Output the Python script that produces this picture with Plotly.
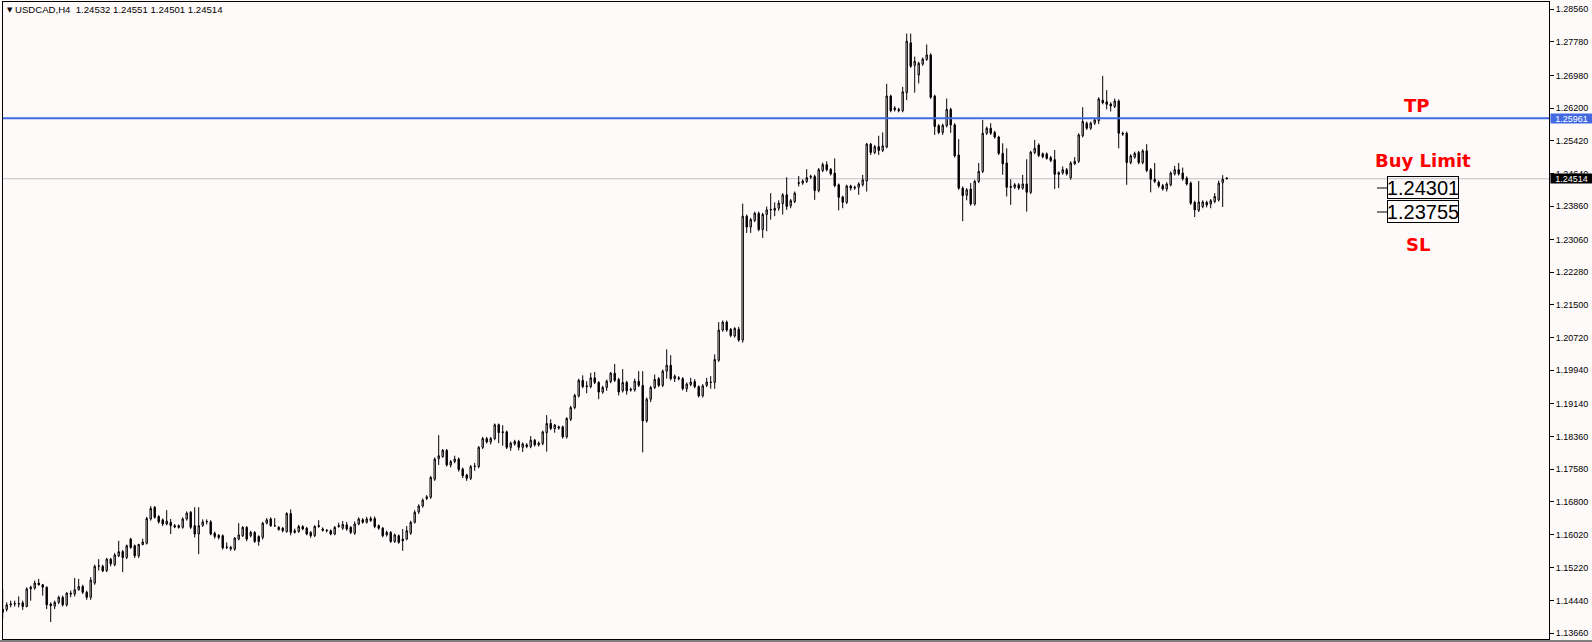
import plotly.graph_objects as go

# ---- data (USDCAD H4) ----
opens = [
1.1416,1.1423,1.1434,1.1436,1.1437,1.1439,1.1430,1.1472,1.1474,1.1486,
1.1482,1.1476,1.1436,1.1431,1.1440,1.1452,1.1434,1.1462,1.1460,1.1470,
1.1478,1.1464,1.1452,1.1486,1.1526,1.1526,1.1516,1.1543,1.1530,1.1551,
1.1561,1.1547,1.1591,1.1575,1.1551,1.1578,1.1581,1.1639,1.1667,1.1645,
1.1637,1.1627,1.1631,1.1623,1.1623,1.1619,1.1639,1.1655,1.1623,1.1603,
1.1624,1.1632,1.1632,1.1605,1.1600,1.1599,1.1571,1.1571,1.1567,1.1591,
1.1599,1.1619,1.1599,1.1607,1.1597,1.1595,1.1629,1.1639,1.1623,1.1619,
1.1617,1.1609,1.1652,1.1607,1.1609,1.1621,1.1617,1.1607,1.1599,1.1621,
1.1615,1.1612,1.1611,1.1603,1.1621,1.1617,1.1625,1.1619,1.1605,1.1627,
1.1637,1.1631,1.1635,1.1640,1.1623,1.1617,1.1601,1.1607,1.1585,1.1599,
1.1591,1.1591,1.1605,1.1631,1.1656,1.1670,1.1688,1.1691,1.1734,1.1783,
1.1788,1.1803,1.1768,1.1776,1.1782,1.1758,1.1744,1.1736,1.1764,1.1764,
1.1810,1.1831,1.1823,1.1831,1.1864,1.1845,1.1847,1.1810,1.1818,1.1824,
1.1810,1.1816,1.1812,1.1827,1.1816,1.1819,1.1845,1.1867,1.1855,1.1859,
1.1859,1.1835,1.1877,1.1905,1.1933,1.1970,1.1957,1.1955,1.1976,1.1965,
1.1942,1.1953,1.1967,1.1987,1.1972,1.1945,1.1965,1.1949,1.1947,1.1968,
1.1958,1.1873,1.1925,1.1953,1.1974,1.1958,1.1992,1.2006,1.1974,1.1976,
1.1974,1.1950,1.1960,1.1967,1.1955,1.1933,1.1958,1.1966,1.1965,1.2018,
1.2090,1.2109,1.2092,1.2076,1.2092,1.2066,1.2362,1.2336,1.2352,1.2369,
1.2330,1.2366,1.2377,1.2376,1.2381,1.2392,1.2413,1.2387,1.2397,1.2440,
1.2441,1.2445,1.2455,1.2457,1.2423,1.2471,1.2485,1.2474,1.2465,1.2437,
1.2408,1.2395,1.2434,1.2429,1.2431,1.2437,1.2446,1.2534,1.2514,1.2528,
1.2519,1.2527,1.2649,1.2616,1.2617,1.2614,1.2657,1.2776,1.2722,1.2699,
1.2725,1.2736,1.2747,1.2649,1.2578,1.2562,1.2578,1.2617,1.2580,1.2508,
1.2429,1.2412,1.2427,1.2391,1.2445,1.2469,1.2560,1.2572,1.2562,1.2551,
1.2512,1.2489,1.2433,1.2431,1.2437,1.2429,1.2439,1.2419,1.2514,1.2532,
1.2511,1.2511,1.2502,1.2497,1.2466,1.2465,1.2473,1.2454,1.2487,1.2493,
1.2554,1.2584,1.2572,1.2584,1.2590,1.2639,1.2635,1.2630,1.2624,1.2637,
1.2560,1.2560,1.2490,1.2503,1.2514,1.2490,1.2518,1.2473,1.2450,1.2443,
1.2435,1.2427,1.2437,1.2463,1.2473,1.2465,1.2453,1.2441,1.2395,1.2376,
1.2385,1.2395,1.2391,1.2397,1.2401,1.2442,1.24532]
highs = [
1.1472,1.1440,1.1444,1.1444,1.1454,1.1444,1.1476,1.1480,1.1492,1.1496,
1.1484,1.1478,1.1440,1.1444,1.1456,1.1456,1.1464,1.1468,1.1498,1.1496,
1.1482,1.1468,1.1500,1.1530,1.1543,1.1530,1.1546,1.1546,1.1558,1.1587,
1.1565,1.1578,1.1594,1.1578,1.1580,1.1592,1.1644,1.1670,1.1670,1.1648,
1.1640,1.1660,1.1639,1.1627,1.1626,1.1643,1.1657,1.1658,1.1667,1.1667,
1.1638,1.1638,1.1636,1.1609,1.1603,1.1602,1.1583,1.1575,1.1596,1.1629,
1.1622,1.1622,1.1611,1.1610,1.1600,1.1632,1.1641,1.1643,1.1641,1.1622,
1.1620,1.1655,1.1662,1.1616,1.1625,1.1624,1.1620,1.1610,1.1624,1.1636,
1.1619,1.1615,1.1614,1.1622,1.1630,1.1634,1.1632,1.1622,1.1633,1.1643,
1.1641,1.1644,1.1645,1.1645,1.1626,1.1620,1.1611,1.1610,1.1604,1.1602,
1.1615,1.1622,1.1635,1.1660,1.1674,1.1688,1.1696,1.1742,1.1786,1.1839,
1.1806,1.1806,1.1780,1.1790,1.1786,1.1762,1.1747,1.1768,1.1773,1.1813,
1.1835,1.1835,1.1835,1.1867,1.1867,1.1863,1.1850,1.1824,1.1828,1.1828,
1.1822,1.1820,1.1837,1.1830,1.1824,1.1850,1.1887,1.1877,1.1866,1.1862,
1.1862,1.1882,1.1909,1.1938,1.1974,1.1982,1.1968,1.1988,1.1990,1.1968,
1.1957,1.1972,1.1990,1.2009,1.1976,1.1997,1.1969,1.1953,1.1974,1.1992,
1.1992,1.1929,1.1957,1.1984,1.1978,1.1996,1.2044,1.2030,1.1984,1.1980,
1.1978,1.1965,1.1976,1.1973,1.1958,1.1961,1.1976,1.1980,1.2032,1.2109,
1.2113,1.2113,1.2095,1.2097,1.2098,1.2392,1.2366,1.2358,1.2373,1.2373,
1.2370,1.2385,1.2417,1.2395,1.2400,1.2417,1.2455,1.2403,1.2421,1.2458,
1.2450,1.2474,1.2461,1.2461,1.2477,1.2490,1.2493,1.2477,1.2500,1.2440,
1.2411,1.2437,1.2437,1.2435,1.2443,1.2461,1.2537,1.2537,1.2532,1.2554,
1.2562,1.2678,1.2652,1.2625,1.2621,1.2671,1.2798,1.2798,1.2743,1.2731,
1.2741,1.2772,1.2751,1.2652,1.2582,1.2583,1.2643,1.2621,1.2584,1.2546,
1.2433,1.2429,1.2441,1.2449,1.2489,1.2592,1.2576,1.2584,1.2566,1.2554,
1.2536,1.2524,1.2450,1.2441,1.2441,1.2461,1.2498,1.2518,1.2544,1.2536,
1.2514,1.2514,1.2506,1.2520,1.2469,1.2481,1.2477,1.2493,1.2503,1.2560,
1.2622,1.2588,1.2588,1.2596,1.2646,1.2697,1.2663,1.2634,1.2643,1.2641,
1.2564,1.2564,1.2510,1.2516,1.2518,1.2522,1.2534,1.2477,1.2489,1.2447,
1.2439,1.2443,1.2469,1.2482,1.2489,1.2478,1.2457,1.2445,1.2399,1.2446,
1.2400,1.2399,1.2403,1.2417,1.2447,1.2460,1.24551]
lows = [
1.1401,1.1418,1.1428,1.1430,1.1428,1.1422,1.1428,1.1444,1.1470,1.1480,
1.1456,1.1424,1.1393,1.1424,1.1436,1.1430,1.1430,1.1452,1.1454,1.1468,
1.1460,1.1446,1.1446,1.1482,1.1516,1.1512,1.1512,1.1526,1.1526,1.1548,
1.1512,1.1543,1.1568,1.1546,1.1546,1.1576,1.1578,1.1635,1.1640,1.1628,
1.1622,1.1624,1.1603,1.1617,1.1616,1.1616,1.1635,1.1615,1.1595,1.1555,
1.1620,1.1626,1.1600,1.1592,1.1590,1.1566,1.1567,1.1563,1.1563,1.1588,
1.1596,1.1586,1.1595,1.1582,1.1575,1.1590,1.1626,1.1620,1.1620,1.1611,
1.1607,1.1606,1.1600,1.1604,1.1606,1.1612,1.1600,1.1594,1.1596,1.1618,
1.1609,1.1607,1.1600,1.1600,1.1618,1.1613,1.1611,1.1603,1.1601,1.1624,
1.1628,1.1628,1.1632,1.1617,1.1613,1.1595,1.1597,1.1582,1.1582,1.1580,
1.1563,1.1588,1.1601,1.1628,1.1651,1.1666,1.1684,1.1687,1.1730,1.1768,
1.1785,1.1764,1.1762,1.1772,1.1752,1.1737,1.1730,1.1732,1.1754,1.1760,
1.1806,1.1819,1.1817,1.1827,1.1820,1.1814,1.1806,1.1802,1.1814,1.1803,
1.1799,1.1808,1.1808,1.1812,1.1812,1.1815,1.1800,1.1851,1.1845,1.1852,
1.1831,1.1831,1.1873,1.1901,1.1929,1.1951,1.1939,1.1951,1.1961,1.1925,
1.1938,1.1945,1.1963,1.1966,1.1934,1.1941,1.1936,1.1943,1.1943,1.1954,
1.1798,1.1869,1.1918,1.1949,1.1954,1.1954,1.1974,1.1970,1.1966,1.1970,
1.1946,1.1942,1.1956,1.1951,1.1929,1.1929,1.1954,1.1950,1.1950,1.2014,
1.2086,1.2086,1.2073,1.2072,1.2062,1.2060,1.2322,1.2322,1.2348,1.2326,
1.2310,1.2326,1.2354,1.2362,1.2375,1.2366,1.2377,1.2381,1.2393,1.2433,
1.2437,1.2441,1.2451,1.2401,1.2419,1.2467,1.2469,1.2459,1.2431,1.2376,
1.2381,1.2391,1.2423,1.2425,1.2413,1.2433,1.2421,1.2508,1.2510,1.2508,
1.2515,1.2524,1.2610,1.2612,1.2610,1.2610,1.2639,1.2716,1.2657,1.2679,
1.2721,1.2733,1.2642,1.2556,1.2558,1.2556,1.2574,1.2561,1.2502,1.2425,
1.2350,1.2400,1.2387,1.2387,1.2441,1.2465,1.2556,1.2556,1.2547,1.2508,
1.2461,1.2409,1.2389,1.2427,1.2425,1.2425,1.2373,1.2415,1.2510,1.2503,
1.2500,1.2497,1.2491,1.2427,1.2429,1.2461,1.2459,1.2449,1.2484,1.2489,
1.2550,1.2568,1.2568,1.2580,1.2582,1.2629,1.2617,1.2612,1.2620,1.2524,
1.2554,1.2437,1.2486,1.2499,1.2486,1.2486,1.2467,1.2419,1.2441,1.2430,
1.2423,1.2421,1.2433,1.2459,1.2459,1.2447,1.2435,1.2389,1.2360,1.2372,
1.2381,1.2383,1.2381,1.2393,1.2397,1.2384,1.24501]
closes = [
1.1424,1.1434,1.1436,1.1437,1.1436,1.1430,1.1472,1.1476,1.1486,1.1482,
1.1476,1.1434,1.1432,1.1440,1.1452,1.1434,1.1462,1.1460,1.1470,1.1478,
1.1464,1.1452,1.1493,1.1526,1.1527,1.1515,1.1543,1.1532,1.1553,1.1561,
1.1547,1.1575,1.1571,1.1551,1.1578,1.1584,1.1640,1.1664,1.1643,1.1632,
1.1627,1.1634,1.1623,1.1620,1.1619,1.1639,1.1653,1.1619,1.1603,1.1623,
1.1632,1.1633,1.1603,1.1597,1.1595,1.1570,1.1572,1.1568,1.1593,1.1601,
1.1619,1.1591,1.1607,1.1585,1.1585,1.1629,1.1637,1.1623,1.1623,1.1614,
1.1611,1.1652,1.1607,1.1611,1.1621,1.1615,1.1603,1.1599,1.1621,1.1623,
1.1612,1.1611,1.1603,1.1619,1.1623,1.1626,1.1615,1.1607,1.1627,1.1639,
1.1631,1.1639,1.1640,1.1621,1.1617,1.1599,1.1607,1.1585,1.1601,1.1583,
1.1587,1.1611,1.1631,1.1655,1.1670,1.1684,1.1692,1.1738,1.1782,1.1790,
1.1803,1.1768,1.1776,1.1782,1.1757,1.1742,1.1736,1.1764,1.1765,1.1810,
1.1831,1.1823,1.1831,1.1864,1.1845,1.1847,1.1810,1.1820,1.1824,1.1810,
1.1818,1.1812,1.1827,1.1816,1.1820,1.1847,1.1867,1.1855,1.1863,1.1856,
1.1835,1.1879,1.1905,1.1934,1.1970,1.1955,1.1955,1.1976,1.1965,1.1942,
1.1953,1.1968,1.1987,1.1970,1.1942,1.1965,1.1945,1.1947,1.1968,1.1958,
1.1873,1.1925,1.1953,1.1972,1.1958,1.1992,1.2006,1.1974,1.1980,1.1974,
1.1950,1.1961,1.1966,1.1955,1.1933,1.1957,1.1966,1.1965,1.2020,1.2090,
1.2109,1.2090,1.2077,1.2094,1.2066,1.2362,1.2336,1.2354,1.2369,1.2330,
1.2366,1.2377,1.2378,1.2381,1.2393,1.2413,1.2385,1.2399,1.2417,1.2442,
1.2446,1.2454,1.2457,1.2423,1.2473,1.2485,1.2473,1.2463,1.2435,1.2407,
1.2395,1.2434,1.2429,1.2431,1.2439,1.2449,1.2534,1.2514,1.2528,1.2519,
1.2530,1.2649,1.2614,1.2620,1.2614,1.2659,1.2780,1.2720,1.2732,1.2727,
1.2737,1.2747,1.2646,1.2576,1.2562,1.2579,1.2617,1.2580,1.2506,1.2429,
1.2411,1.2425,1.2391,1.2445,1.2469,1.2560,1.2572,1.2560,1.2551,1.2512,
1.2487,1.2431,1.2431,1.2437,1.2429,1.2439,1.2419,1.2515,1.2524,1.2507,
1.2504,1.2500,1.2495,1.2462,1.2462,1.2473,1.2463,1.2489,1.2493,1.2556,
1.2588,1.2572,1.2584,1.2592,1.2642,1.2633,1.2629,1.2625,1.2637,1.2560,
1.2558,1.2490,1.2506,1.2512,1.2490,1.2518,1.2471,1.2450,1.2445,1.2434,
1.2427,1.2439,1.2465,1.2473,1.2463,1.2451,1.2439,1.2393,1.2377,1.2396,
1.2396,1.2389,1.2399,1.2409,1.2441,1.2450,1.24514]
bars = list(range(len(closes)))

tick_values = [1.28560, 1.27780, 1.26980, 1.26200, 1.25420, 1.24640, 1.23860,
               1.23060, 1.22280, 1.21500, 1.20720, 1.19940, 1.19140, 1.18360,
               1.17580, 1.16800, 1.16020, 1.15220, 1.14440, 1.13660]
tick_labels = ["%.5f" % v for v in tick_values]

symbol = "USDCAD,H4"
ohlc_last = ["1.24532", "1.24551", "1.24501", "1.24514"]
tp_price = 1.25961
bid_price = 1.24514
buy_limit_price = "1.24301"
sl_price = "1.23755"

BG = "#FFFAFA"
BLUE = "#4169E1"

# ---- figure geometry (pixels) ----
W, H = 1592, 642
ML, MR, MT, MB = 3, 43, 2, 3
PW, PH = W - ML - MR, H - MT - MB


def px(x):
    return (x - ML) / PW


def py(y):
    return 1 - (y - MT) / PH


fig = go.Figure()
fig.add_trace(go.Candlestick(
    x=bars, open=opens, high=highs, low=lows, close=closes,
    increasing=dict(line=dict(color="black", width=1), fillcolor=BG),
    decreasing=dict(line=dict(color="black", width=1), fillcolor="black"),
    whiskerwidth=0, hoverinfo="skip", showlegend=False,
))

# y range: 1.28560 at 9.3px, 4188 px per unit price
ppu = 4188.0
y_top = 1.28560 + (9.3 - MT) / ppu
y_bot = 1.28560 - (H - MB - 9.3) / ppu

x0 = 0.075
fig.update_layout(
    width=W, height=H,
    margin=dict(l=ML, r=MR, t=MT, b=MB, pad=0),
    paper_bgcolor=BG, plot_bgcolor=BG,
    boxgap=0.5,
    showlegend=False,
    xaxis=dict(range=[x0, x0 + PW / 4.0], showticklabels=False, showgrid=False,
               zeroline=False, ticks="", showline=True, mirror=True,
               linecolor="black", linewidth=1, rangeslider=dict(visible=False),
               fixedrange=True),
    yaxis=dict(range=[y_bot, y_top], side="right", tickvals=tick_values,
               ticktext=tick_labels, ticks="outside", ticklen=4, tickcolor="black",
               tickwidth=1, showgrid=False, zeroline=False, showline=True,
               mirror=True, linecolor="black", linewidth=1,
               tickfont=dict(family="Liberation Sans", size=9, color="black"),
               fixedrange=True),
    font=dict(family="Liberation Sans", color="black"),
)

shapes = [
    dict(type="line", xref="paper", yref="y", x0=0, x1=1, y0=bid_price, y1=bid_price,
         line=dict(color="#C0C0C0", width=1), layer="below"),
    dict(type="line", xref="paper", yref="y", x0=0, x1=1, y0=tp_price, y1=tp_price,
         line=dict(color=BLUE, width=2)),
    dict(type="line", xref="paper", yref="paper", x0=px(1377), x1=px(1387),
         y0=py(188), y1=py(188), line=dict(color="black", width=1)),
    dict(type="line", xref="paper", yref="paper", x0=px(1377), x1=px(1387),
         y0=py(212), y1=py(212), line=dict(color="black", width=1)),
    dict(type="line", xref="paper", yref="paper", x0=px(0), x1=px(W),
         y0=py(641), y1=py(641), line=dict(color="black", width=1)),
]
fig.update_layout(shapes=shapes)

ann = []
# header
ann.append(dict(xref="paper", yref="paper", x=px(4.5), y=py(10), text="▼",
                showarrow=False, xanchor="left", yanchor="middle",
                font=dict(family="DejaVu Sans", size=7, color="black")))
ann.append(dict(xref="paper", yref="paper", x=px(13), y=py(10),
                text=symbol + "\u00a0\u00a0" + " ".join(ohlc_last),
                showarrow=False, xanchor="left", yanchor="middle",
                font=dict(family="Liberation Sans", size=9.6, color="black")))
# axis price labels
ann.append(dict(xref="paper", yref="y", x=1, y=tp_price, text=str(tp_price),
                showarrow=False, xanchor="left", yanchor="middle", xshift=1,
                bgcolor=BLUE, width=41, height=9, borderpad=0,
                font=dict(family="Liberation Sans", size=9, color="white")))
ann.append(dict(xref="paper", yref="y", x=1, y=bid_price, text=ohlc_last[3],
                showarrow=False, xanchor="left", yanchor="middle", xshift=1,
                bgcolor="black", width=41, height=9, borderpad=0,
                font=dict(family="Liberation Sans", size=9, color="white")))
# right side labels
red = dict(family="DejaVu Sans", size=18, color="#FF0000")
ann.append(dict(xref="paper", yref="paper", x=px(1416), y=py(106), text="<b>TP</b>",
                showarrow=False, xanchor="center", yanchor="middle", font=red))
ann.append(dict(xref="paper", yref="paper", x=px(1423), y=py(161), text="<b>Buy Limit</b>",
                showarrow=False, xanchor="center", yanchor="middle", font=red))
ann.append(dict(xref="paper", yref="paper", x=px(1418), y=py(244), text="<b>SL</b>",
                showarrow=False, xanchor="center", yanchor="middle", font=red))
box_font = dict(family="Liberation Sans", size=20, color="black")
ann.append(dict(xref="paper", yref="paper", x=px(1423), y=py(187.5), text=buy_limit_price,
                showarrow=False, xanchor="center", yanchor="middle", font=box_font,
                bordercolor="black", borderwidth=1, borderpad=0, width=70, height=21))
ann.append(dict(xref="paper", yref="paper", x=px(1423), y=py(211.5), text=sl_price,
                showarrow=False, xanchor="center", yanchor="middle", font=box_font,
                bordercolor="black", borderwidth=1, borderpad=0, width=70, height=21))
fig.update_layout(annotations=ann)

fig.write_html("out.html", config={"displayModeBar": False, "staticPlot": True},
               post_script="document.body.style.margin='0px';document.body.style.overflow='hidden';")
